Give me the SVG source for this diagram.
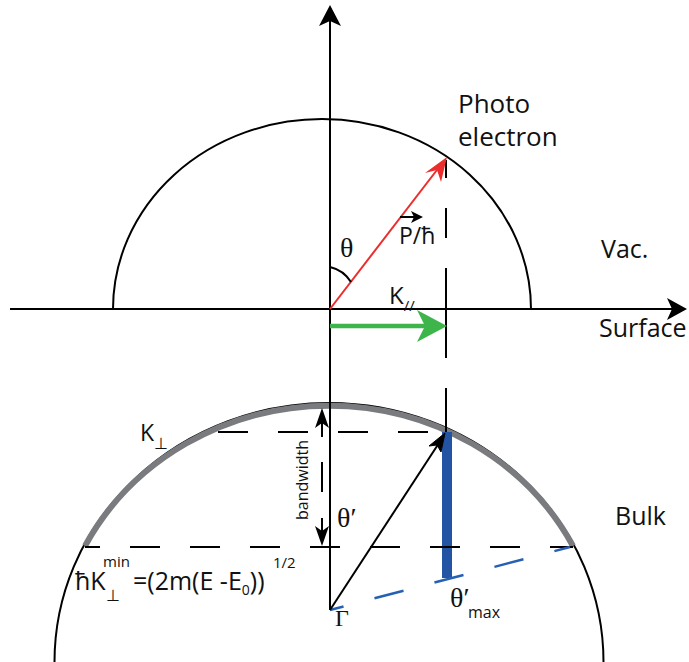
<svg xmlns="http://www.w3.org/2000/svg" width="689" height="662" viewBox="0 0 689 662">
<style>
.ln{fill:none;stroke:#000;stroke-width:2}
.dash{fill:none;stroke:#000;stroke-width:2;stroke-dasharray:30 30}
.t{font-family:"Open Sans","Liberation Sans",sans-serif;fill:#111}
.g{font-family:"Liberation Serif","DejaVu Serif",serif;fill:#111}
</style>
<rect width="689" height="662" fill="#fff"/>
<g id="shapes">
<path id="vacuum-arc" class="ln" d="M113 309 A209 190 0 0 1 531 309"/>
<path id="bulk-arc" class="ln" d="M54.5 662 A274.5 259 0 0 1 603.5 662"/>
<path id="band-arc" fill="none" stroke="#7a7b7e" stroke-width="6" d="M85 546 A274.5 259 0 0 1 573 546"/>
<rect id="blue-bar" x="442" y="432" width="10" height="146" fill="#2353a3"/>
</g>
<g id="connectors">
<path class="ln" d="M330 610 V20"/>
<polygon points="330,5 341,26 330,21 319,26" fill="#000"/>
<path class="ln" d="M10 309 H675"/>
<polygon points="687,309 667,298 672,309 667,320" fill="#000"/>
<path class="dash" d="M85 547 H573" stroke-dashoffset="15"/>
<path class="dash" d="M218 432 H447" stroke-dasharray="30 27"/>
<path class="dash" d="M446 160 V432" stroke-dasharray="25 25" stroke-dashoffset="12"/>
<path class="ln" d="M446 298 V333"/>
<path class="ln" d="M446 418 V432"/>
<path fill="none" stroke="#2660b5" stroke-width="2.5" stroke-dasharray="30 32" stroke-dashoffset="16" d="M330 610 L570 547"/>
<path stroke="#ec2d2d" stroke-width="2" d="M330 309 L440 166"/>
<polygon points="447,157 441,182 437,170 425,173" fill="#ec2d2d"/>
<path stroke="#3db54a" stroke-width="4.5" d="M330 326 H430"/>
<polygon points="447,326 417,310 425,326 417,342" fill="#3db54a"/>
<path class="ln" d="M330 610 L439 443"/>
<polygon points="445,433 441,452 437,445 429,446" fill="#000" stroke="#000" stroke-width="1"/>
<path class="ln" d="M330 267 A34 34 0 0 1 351 282"/>
<path class="ln" d="M400 217 H414"/>
<polygon points="423,217 411,211 414,217 411,223" fill="#000"/>
<path class="ln" d="M322 420 V437 M322 462 V492 M322 518 V535"/>
<polygon points="322,408 329,428 322,423 315,428" fill="#000"/>
<polygon points="322,546 329,526 322,531 315,526" fill="#000"/>
</g>
<g id="labels">
<text class="t" x="458" y="113" font-size="26">Photo</text>
<text class="t" x="458" y="146" font-size="26">electron</text>
<text class="t" x="601" y="258" font-size="25">Vac.</text>
<text class="t" x="599" y="337" font-size="25">Surface</text>
<text class="t" x="615" y="525" font-size="25">Bulk</text>
<text class="g" x="340" y="257" font-size="28">θ</text>
<text class="t" x="399" y="244" font-size="23">P/ħ</text>
<text class="t" x="389" y="304" font-size="24">K<tspan font-size="15" dy="7">//</tspan></text>
<text class="t" x="140" y="441" font-size="23">K<tspan font-size="16" dy="8">⊥</tspan></text>
<text class="t" font-size="16" text-anchor="middle" transform="translate(308,480) rotate(-90)">bandwidth</text>
<text class="g" x="337" y="527" font-size="28">θ′</text>
<text class="g" x="450" y="607" font-size="28">θ′</text>
<text class="t" x="468" y="618" font-size="16">max</text>
<text class="g" x="335" y="626" font-size="24">Γ</text>
<text class="t" x="75" y="590" font-size="25">ħK</text>
<text class="t" x="103" y="567" font-size="15">min</text>
<text class="t" x="106" y="601" font-size="16">⊥</text>
<text class="t" x="133" y="590" font-size="25">=(2m(E -E<tspan font-size="14" dy="5">0</tspan><tspan dy="-5">))</tspan></text>
<text class="t" x="273" y="568" font-size="15">1/2</text>
</g>
</svg>
